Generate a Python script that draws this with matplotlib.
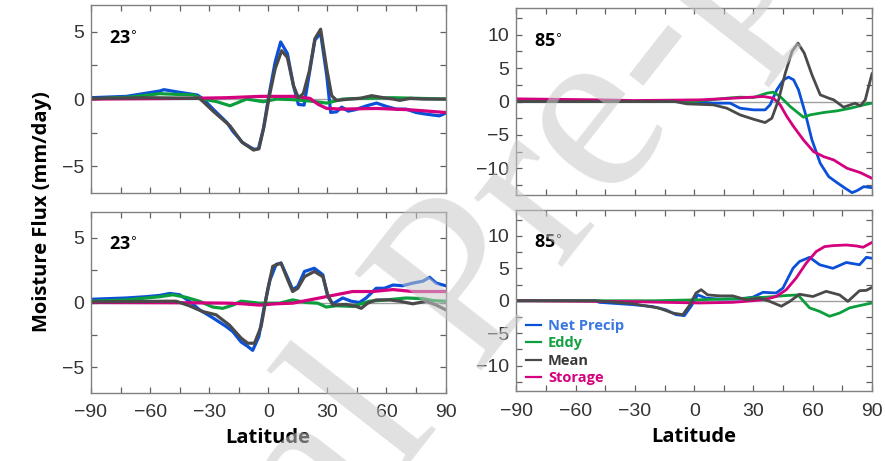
import matplotlib.pyplot as plt
from matplotlib.ticker import MultipleLocator

# ---------------- data ----------------
# panel a: 23 deg, top-left
a_np_lat = [-90, -72, -55, -53, -45, -36, -33, -28, -21, -18, -13, -9, -7, -5, -2.5, 0, 3.5, 6.3, 9.7, 12.8, 15.3, 18.2, 20.4, 23.7, 26.6, 29.7, 31.7, 34.7, 37.3, 40.6, 44, 50, 55, 60, 65, 70, 75, 79, 84, 87, 90]
a_np = [0.1, 0.2, 0.6, 0.7, 0.5, 0.3, 0.0, -0.75, -1.75, -2.4, -3.25, -3.6, -3.75, -3.7, -2.25, 0.0, 2.75, 4.25, 3.4, 1.0, -0.4, -0.45, 1.5, 4.4, 4.9, 1.75, -1.0, -0.95, -0.6, -0.9, -0.8, -0.5, -0.3, -0.55, -0.75, -0.75, -1.0, -1.1, -1.2, -1.25, -1.05]
a_mean_lat = [-90, -60, -35, -33, -28, -19.4, -13.4, -7.5, -4.7, -2.1, 0.6, 3.5, 6.8, 9.7, 12.8, 15.3, 17.8, 20.9, 23.7, 26.6, 29.7, 32.2, 34.7, 41.5, 46.6, 52.5, 58.4, 63.5, 66.8, 72, 79, 90]
a_mean = [0.05, 0.1, 0.05, -0.2, -0.9, -2.0, -3.2, -3.8, -3.7, -2.0, 0.25, 2.25, 3.6, 3.1, 1.0, 0.1, 0.4, 2.1, 4.5, 5.2, 2.25, 0.25, -0.1, 0.0, 0.05, 0.25, 0.1, 0.0, -0.1, 0.05, 0.0, 0.0]
a_eddy_lat = [-90, -70, -55, -38, -33, -26, -19.4, -16, -11, -2.5, 4.3, 12.8, 21.2, 29.7, 38, 46.6, 63, 90]
a_eddy = [0.0, 0.15, 0.4, 0.3, 0.0, -0.2, -0.5, -0.3, 0.0, -0.2, 0.0, -0.05, -0.15, -0.3, 0.0, 0.05, 0.1, 0.0]
a_stor_lat = [-90, -40, -21, -4, 12.8, 21.2, 25.4, 29.7, 38, 55, 72, 90]
a_stor = [0.0, 0.05, 0.1, 0.2, 0.2, 0.05, -0.4, -0.7, -0.75, -0.7, -0.8, -1.0]

# panel b: 85 deg, top-right
b_np_lat = [-90, 0, 9.7, 18.2, 23.2, 30, 35.9, 38.4, 41.8, 45.2, 47.7, 50.3, 52.8, 56.2, 59.6, 63.8, 68.1, 72.3, 76.5, 79.9, 82.4, 85.8, 90]
b_np = [0.0, 0.0, -0.25, -0.25, -1.0, -1.25, -1.25, -0.5, 1.75, 3.25, 3.65, 3.25, 1.75, -1.75, -5.75, -9.25, -11.25, -12.15, -13.0, -13.65, -13.35, -12.75, -12.9]
b_mean_lat = [-90, -10, -3.8, 9.7, 16.5, 23.2, 30, 35.9, 39.3, 42.7, 46.1, 49.5, 52.5, 55.7, 59.6, 63.8, 68.1, 70.6, 75.6, 81.5, 84.1, 86.6, 88.3, 90]
b_mean = [0.0, 0.0, -0.35, -0.5, -1.0, -2.0, -2.65, -3.15, -2.5, 0.25, 4.25, 7.5, 8.75, 7.25, 4.0, 1.0, 0.5, 0.25, -0.85, -0.25, -0.65, 0.25, 2.25, 4.15]
b_eddy_lat = [-90, 0, 16.5, 23.2, 30, 36.8, 40.1, 43.5, 48.6, 55.3, 58.7, 65.5, 72.3, 79.1, 85.8, 90]
b_eddy = [0.0, 0.0, 0.5, 0.65, 0.6, 1.25, 1.4, 0.75, -0.75, -2.35, -2.0, -1.65, -1.4, -1.0, -0.5, -0.25]
b_stor_lat = [-90, -47.7, -30.8, 3, 19.9, 35.1, 40.1, 43.5, 46.9, 50.3, 55.3, 60.4, 65.5, 70.6, 77.4, 84.1, 90]
b_stor = [0.4, 0.25, 0.15, 0.25, 0.5, 0.75, 0.5, -0.5, -2.25, -3.75, -5.75, -7.5, -8.25, -8.75, -10.0, -10.65, -11.5]

# panel c: 23 deg, bottom-left
c_np_lat = [-90, -72, -62, -55, -50, -45, -40, -35, -28, -21.4, -18, -13.8, -10.4, -7.9, -4.8, -2, 0.9, 4, 6.5, 9.9, 12.4, 15, 18.4, 23.4, 27.7, 30.2, 32.8, 37.8, 42.1, 46.3, 49.7, 54.8, 59, 63.3, 68.3, 73.4, 78.5, 81.9, 85.3, 90]
c_np = [0.25, 0.35, 0.45, 0.55, 0.7, 0.6, 0.1, -0.55, -1.2, -1.85, -2.25, -3.05, -3.4, -3.7, -2.65, -0.3, 1.75, 2.95, 3.05, 1.9, 1.0, 1.25, 2.4, 2.65, 2.15, 0.45, -0.1, 0.35, 0.1, 0.0, 0.35, 1.1, 1.1, 1.35, 1.3, 1.5, 1.65, 1.95, 1.5, 1.3]
c_mean_lat = [-90, -50, -46.8, -40.1, -33.3, -26.5, -19.7, -13.8, -10.4, -7, -3.6, -0.3, 2.3, 6.5, 9.9, 12.4, 15, 18.4, 23.4, 27.7, 30.2, 32.8, 39.5, 44.6, 47.2, 50.5, 54.8, 61.5, 66.6, 73.4, 80.2, 85.3, 90]
c_mean = [0.05, 0.1, 0.1, -0.25, -0.7, -0.95, -1.75, -2.75, -3.15, -3.15, -1.85, 1.0, 2.8, 3.05, 1.75, 0.85, 1.1, 2.0, 2.4, 2.0, 0.6, -0.2, -0.15, -0.3, -0.45, -0.05, 0.2, 0.2, 0.1, -0.1, 0.1, -0.2, -0.55]
c_eddy_lat = [-90, -72, -55, -48.5, -41.7, -35, -28.2, -23.1, -18, -13.8, -4.5, 5.7, 12.4, 19.2, 25.1, 29.4, 34.5, 42.9, 51.4, 59.9, 70, 78.5, 83.6, 90]
c_eddy = [0.1, 0.2, 0.45, 0.6, 0.4, 0.1, -0.35, -0.45, -0.2, 0.1, -0.05, -0.05, 0.2, 0.0, -0.05, -0.35, -0.25, -0.3, 0.1, 0.2, 0.35, 0.3, 0.15, 0.1]
c_stor_lat = [-90, -40, -20, -12.9, -4.5, 4, 12.4, 20.9, 29.4, 36.1, 42.9, 53.1, 63.3, 73.4, 90]
c_stor = [0.0, -0.02, -0.05, -0.1, -0.2, -0.1, -0.05, 0.2, 0.45, 0.65, 0.85, 0.85, 1.0, 0.85, 0.85]

# panel d: 85 deg, bottom-right
d_np_lat = [-90, -50, -48.1, -31.2, -21, -14.3, -9.2, -5, -1.6, 1.8, 6, 12.8, 23, 29.7, 34.8, 41.5, 44.9, 50, 53.3, 58.4, 63.5, 70.2, 77, 83.7, 87.1, 90]
d_np = [0.0, 0.0, -0.25, -0.6, -0.9, -1.4, -2.15, -2.3, -0.85, 0.9, 0.4, 0.25, 0.25, 0.55, 1.3, 1.2, 1.95, 5.0, 6.05, 6.7, 5.55, 5.0, 5.9, 5.55, 6.7, 6.55]
d_mean_lat = [-90, -50, -31.2, -17.7, -10.9, -5.8, -2.5, 0.9, 3.5, 6.8, 12.8, 19.5, 26.3, 33.1, 38.2, 44.1, 48.4, 53.3, 60.1, 66.8, 73.6, 77.8, 83.7, 87.1, 90]
d_mean = [0.0, 0.0, -0.45, -1.15, -1.9, -2.15, -0.75, 1.2, 1.7, 0.9, 0.75, 0.75, 0.15, 0.4, -0.1, -0.85, -0.1, 1.0, 0.65, 1.45, 0.9, -0.1, 1.55, 1.6, 2.05]
d_eddy_lat = [-90, -20, 2.6, 19.5, 36.5, 46.6, 52.5, 58.4, 63.5, 68.5, 73.6, 78.7, 83.7, 90]
d_eddy = [0.0, 0.0, 0.15, 0.3, 0.55, 0.8, 0.9, -1.1, -1.65, -2.4, -1.9, -1.1, -0.75, -0.35]
d_stor_lat = [-90, -30, -14.3, 2.6, 19.5, 29.7, 36.5, 41.5, 46.6, 51.6, 56.7, 61.8, 66, 70.2, 77, 82.1, 85.5, 90]
d_stor = [0.0, -0.15, -0.25, -0.35, -0.25, 0.0, 0.25, 0.65, 1.7, 3.5, 5.8, 7.6, 8.35, 8.5, 8.6, 8.45, 8.25, 9.0]

panel_labels = ['23', '85', '23', '85']
names = ['Net Precip', 'Eddy', 'Mean', 'Storage']
colors = ['#0a50d8', '#0a9e3c', '#4a4a4a', '#d4007e']
text_colors = ['#3a78e0', '#12a040', '#3a3a3a', '#d4007e']

panels = [
    [(a_np_lat, a_np), (a_eddy_lat, a_eddy), (a_mean_lat, a_mean), (a_stor_lat, a_stor)],
    [(b_np_lat, b_np), (b_eddy_lat, b_eddy), (b_mean_lat, b_mean), (b_stor_lat, b_stor)],
    [(c_np_lat, c_np), (c_eddy_lat, c_eddy), (c_mean_lat, c_mean), (c_stor_lat, c_stor)],
    [(d_np_lat, d_np), (d_eddy_lat, d_eddy), (d_mean_lat, d_mean), (d_stor_lat, d_stor)],
]

# ---------------- figure ----------------
plt.rcParams['font.family'] = ['Liberation Sans Narrow', 'Liberation Sans']
fig = plt.figure(figsize=(8.85, 4.61), dpi=100)

# axes boxes [left, bottom, width, height] in figure fraction
boxes = [
    [0.1028, 0.5813, 0.4006, 0.4077],
    [0.5836, 0.5770, 0.4017, 0.4056],
    [0.1028, 0.1475, 0.4006, 0.3926],
    [0.5836, 0.1508, 0.4017, 0.3937],
]
ylims = [7, 14, 7, 14]
lws = [2.3, 2.0, 2.3, 2.0]

axes = []
for i in range(4):
    ax = fig.add_axes(boxes[i])
    axes.append(ax)
    ax.axhline(0, color='#a0a0a0', lw=1.0, zorder=1)
    for j in range(4):
        lat, val = panels[i][j]
        ax.plot(lat, val, color=colors[j], lw=lws[i], label=names[j], zorder=2 + (j == 2) * 0.5)
    ax.set_xlim(-90, 90)
    ax.set_ylim(-ylims[i], ylims[i])
    ax.xaxis.set_major_locator(MultipleLocator(30))
    ax.xaxis.set_minor_locator(MultipleLocator(15))
    ax.yaxis.set_major_locator(MultipleLocator(5))
    ax.yaxis.set_minor_locator(MultipleLocator(2.5))
    ax.tick_params(which='both', direction='in', top=True, right=True,
                   color='#606060', labelsize=14, labelcolor='#333333')
    ax.tick_params(which='both', length=4, width=0.9)
    ax.tick_params(axis='x', pad=8)
    ax.tick_params(axis='y', pad=5)
    for s in ax.spines.values():
        s.set_color('#808080')
        s.set_linewidth(1.0)
    ax.text(0.05, 0.82, panel_labels[i] + r'$^{\circ}$', transform=ax.transAxes,
            fontsize=13, fontweight='bold', family='Open Sans', va='center', ha='left')
    if i < 2:
        ax.tick_params(labelbottom=False)
    else:
        ax.set_xlabel('Latitude', fontsize=14.5, fontweight='bold', family='Open Sans', labelpad=5)

fig.text(0.048, 0.54, 'Moisture Flux (mm/day)', rotation=90, fontsize=14.5,
         fontweight='bold', family='Open Sans', ha='center', va='center')

leg = axes[3].legend(loc='lower left', bbox_to_anchor=(-0.01, -0.038), frameon=False,
                     handlelength=1.0, handletextpad=0.5, labelspacing=0.24,
                     prop={'family': 'Open Sans', 'weight': 'bold', 'size': 10.5})
for t, c in zip(leg.get_texts(), text_colors):
    t.set_color(c)
for h in leg.get_lines():
    h.set_linewidth(1.6)

# watermark
fig.text(0.54, 0.395, 'Journal Pre-proof', rotation=52, rotation_mode='anchor',
         fontsize=175, family='Liberation Serif',
         color='#c8c8c8', alpha=0.55, ha='center', va='center', zorder=10)

plt.savefig('out.png', dpi=100)
